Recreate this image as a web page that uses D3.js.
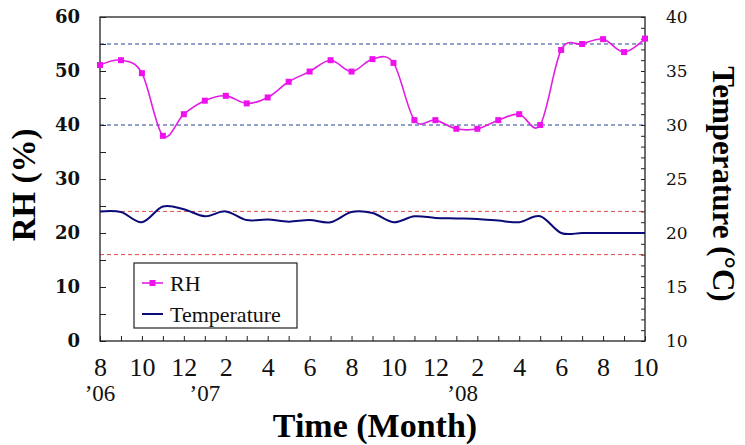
<!DOCTYPE html>
<html>
<head>
<meta charset="utf-8">
<script src="https://cdn.jsdelivr.net/npm/d3@7"></script>
<style>
  body { margin: 0; background: #fff; }
  svg { display: block; }
</style>
</head>
<body>
<svg id="chart" width="745" height="445"></svg>
<script>
// month index 0 = Aug '06 ... 26 = Oct '08
const monthLabels = ['8', '10', '12', '2', '4', '6', '8', '10', '12', '2', '4', '6', '8', '10'];
const yearLabels = [{text: '\u201906', m: 0}, {text: '\u201907', m: 5}, {text: '\u201908', m: 17.3}];

const rh = [51.1, 52.0, 49.6, 38.0, 42.0, 44.5, 45.4, 44.0, 45.1, 48.0, 49.9, 52.0, 49.9, 52.2,
  51.5, 40.9, 40.9, 39.3, 39.3, 40.9, 42.0, 40.0, 53.9, 55.0, 55.9, 53.5, 56.0];
const temperature = [22.0, 21.95, 21.0, 22.45, 22.2, 21.55, 22.0, 21.2, 21.25, 21.05, 21.2, 21.0, 21.95,
  21.85, 21.0, 21.55, 21.4, 21.35, 21.3, 21.15, 21.0, 21.55, 20.0, 20.0, 20.0, 20.0, 20.0];

const rhLimits = [55, 40];     // blue dashed
const tempLimits = [22, 18];   // red dashed

const plot = {left: 100, right: 645, top: 17, bottom: 341};
const serif = '"Liberation Serif", "Times New Roman", serif';
const tickFont = '"DejaVu Serif", serif';

const svg = d3.select('#chart');
const x = d3.scaleLinear().domain([0, 26]).range([plot.left, plot.right]);
const yL = d3.scaleLinear().domain([0, 60]).range([plot.bottom, plot.top]);
const yR = d3.scaleLinear().domain([10, 40]).range([plot.bottom, plot.top]);

// reference lines
svg.selectAll('.rhlim').data(rhLimits).enter().append('line')
    .attr('x1', plot.left).attr('x2', plot.right)
    .attr('y1', d => yL(d)).attr('y2', d => yL(d))
    .attr('stroke', '#24449a').attr('stroke-width', 1).attr('stroke-dasharray', '4,3');
svg.selectAll('.tlim').data(tempLimits).enter().append('line')
    .attr('x1', plot.left).attr('x2', plot.right)
    .attr('y1', d => yR(d)).attr('y2', d => yR(d))
    .attr('stroke', '#e04a4a').attr('stroke-width', 1).attr('stroke-dasharray', '4,3');

// axes
const axL = svg.append('g').attr('transform', `translate(${plot.left},0)`)
    .call(d3.axisLeft(yL).tickValues(d3.range(0, 61, 5)).tickSize(-6).tickPadding(20)
      .tickFormat(d => d % 10 === 0 ? d : ''));
axL.selectAll('text').style('font-family', tickFont).style('font-size', '18px')
    .style('font-weight', 'bold').attr('fill', '#111');

const axR = svg.append('g').attr('transform', `translate(${plot.right},0)`)
    .call(d3.axisRight(yR).tickValues(d3.range(10, 41, 1)).tickSize(-4).tickPadding(21)
      .tickFormat(d => d % 5 === 0 ? d : ''));
axR.selectAll('text').style('font-family', tickFont).style('font-size', '17px').attr('fill', '#111');

const axB = svg.append('g').attr('transform', `translate(0,${plot.bottom})`)
    .call(d3.axisBottom(x).tickValues(d3.range(0, 27)).tickSize(-5).tickPadding(17)
      .tickFormat(d => d % 2 === 0 ? monthLabels[d / 2] : ''));
axB.selectAll('text').style('font-family', serif).style('font-size', '26px').attr('fill', '#111');

svg.selectAll('.domain').remove();
svg.selectAll('.tick line').attr('stroke', '#222');

svg.selectAll('.year').data(yearLabels).enter().append('text')
    .attr('x', d => x(d.m)).attr('y', 401)
    .attr('text-anchor', 'middle')
    .style('font-family', serif).style('font-size', '23px').attr('fill', '#111')
    .text(d => d.text);

// frame
svg.append('rect').attr('x', plot.left).attr('y', plot.top)
    .attr('width', plot.right - plot.left).attr('height', plot.bottom - plot.top)
    .attr('fill', 'none').attr('stroke', '#222').attr('stroke-width', 1.3);

// series
const curve = d3.curveCardinal.tension(0);
const tempLine = d3.line().x((d, i) => x(i)).y(d => yR(d)).curve(curve);
svg.append('path').datum(temperature)
    .attr('d', tempLine).attr('fill', 'none')
    .attr('stroke', '#0a0a78').attr('stroke-width', 2);

const rhLine = d3.line().x((d, i) => x(i)).y(d => yL(d)).curve(curve);
svg.append('path').datum(rh)
    .attr('d', rhLine).attr('fill', 'none')
    .attr('stroke', '#e21ee2').attr('stroke-width', 1.6);
svg.selectAll('.pt').data(rh).enter().append('rect')
    .attr('x', (d, i) => x(i) - 3).attr('y', d => yL(d) - 3)
    .attr('width', 6).attr('height', 6).attr('fill', '#ee11ee');

// legend
const lg = svg.append('g');
lg.append('rect').attr('x', 134).attr('y', 263).attr('width', 163).attr('height', 65)
    .attr('fill', '#fff').attr('stroke', '#222').attr('stroke-width', 1.2);
lg.append('line').attr('x1', 142).attr('x2', 163).attr('y1', 283).attr('y2', 283)
    .attr('stroke', '#e21ee2').attr('stroke-width', 1.6);
lg.append('rect').attr('x', 149.5).attr('y', 280).attr('width', 6).attr('height', 6).attr('fill', '#ee11ee');
lg.append('line').attr('x1', 142).attr('x2', 163).attr('y1', 314).attr('y2', 314)
    .attr('stroke', '#0a0a78').attr('stroke-width', 2);
lg.selectAll('.lt').data(['RH', 'Temperature']).enter().append('text')
    .attr('x', 170).attr('y', (d, i) => 291 + i * 31)
    .style('font-family', serif).style('font-size', '22px').attr('fill', '#111')
    .text(d => d);

// axis titles
svg.append('text').attr('transform', 'translate(35,185) rotate(-90)')
    .attr('text-anchor', 'middle')
    .style('font-family', serif).style('font-size', '33px').style('font-weight', 'bold')
    .text('RH (%)');
svg.append('text').attr('transform', 'translate(713,184) rotate(90)')
    .attr('text-anchor', 'middle')
    .style('font-family', serif).style('font-size', '31px').style('font-weight', 'bold')
    .text('Temperature (\u00B0C)');
svg.append('text').attr('x', 375).attr('y', 437)
    .attr('text-anchor', 'middle')
    .style('font-family', serif).style('font-size', '34px').style('font-weight', 'bold')
    .text('Time (Month)');
</script>
</body>
</html>
